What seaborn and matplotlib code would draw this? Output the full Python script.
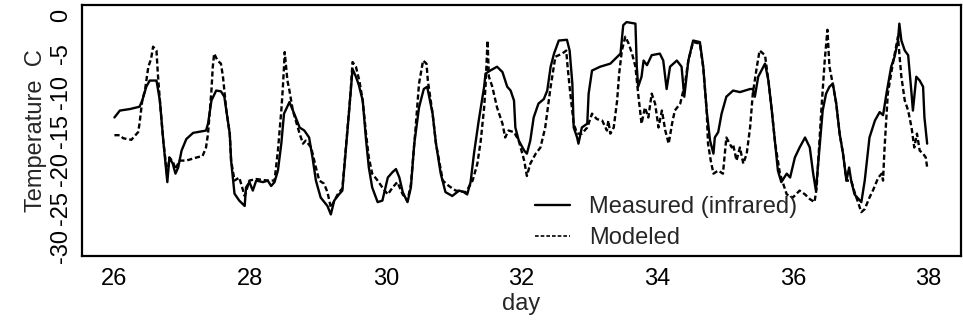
import matplotlib
matplotlib.use("Agg")
import matplotlib.pyplot as plt
import seaborn as sns
import pandas as pd
from matplotlib.lines import Line2D

# ---- data ----
measured_day = [26.00, 26.08, 26.23, 26.37, 26.41, 26.47, 26.52, 26.62, 26.67, 26.72, 26.78, 26.81,
                26.86, 26.90, 26.94, 26.99, 27.06, 27.16, 27.35, 27.38, 27.43, 27.50, 27.57, 27.62,
                27.70, 27.72, 27.77, 27.84, 27.92, 27.94, 27.99, 28.04, 28.09, 28.19, 28.26, 28.31,
                28.36, 28.41, 28.46, 28.50, 28.58, 28.65, 28.73, 28.80, 28.87, 28.92, 28.97, 29.04,
                29.14, 29.19, 29.24, 29.31, 29.36, 29.41, 29.46, 29.51, 29.56, 29.60, 29.66, 29.71,
                29.75, 29.80, 29.88, 29.95, 30.03, 30.10, 30.15, 30.20, 30.25, 30.32, 30.37, 30.42,
                30.49, 30.56, 30.61, 30.69, 30.74, 30.81, 30.88, 30.98, 31.08, 31.15, 31.20, 31.25,
                31.30, 31.37, 31.45, 31.47, 31.54, 31.64, 31.72, 31.79, 31.84, 31.89, 31.91, 31.96,
                32.04, 32.08, 32.13, 32.18, 32.25, 32.33, 32.38, 32.43, 32.48, 32.55, 32.67, 32.71,
                32.75, 32.77, 32.82, 32.84, 32.89, 32.97, 32.99, 33.04, 33.16, 33.31, 33.38, 33.46,
                33.50, 33.55, 33.68, 33.70, 33.72, 33.77, 33.80, 33.85, 33.92, 34.04, 34.09, 34.14,
                34.19, 34.29, 34.36, 34.40, 34.46, 34.53, 34.63, 34.68, 34.73, 34.78, 34.83, 34.85,
                34.90, 34.95, 35.02, 35.12, 35.22, 35.37, 35.41, 35.44, 35.49, 35.59, 35.64, 35.69,
                35.74, 35.78, 35.83, 35.91, 35.96, 36.03, 36.10, 36.18, 36.25, 36.30, 36.34, 36.39,
                36.44, 36.49, 36.54, 36.59, 36.64, 36.69, 36.74, 36.79, 36.83, 36.86, 36.91, 36.99,
                37.01, 37.06, 37.13, 37.21, 37.28, 37.33, 37.38, 37.45, 37.50, 37.55, 37.57, 37.60,
                37.65, 37.70, 37.75, 37.77, 37.82, 37.87, 37.92, 37.94, 37.98]
measured_temp = [-13.3, -12.4, -12.2, -11.9, -11.1, -9.3, -8.5, -8.5, -11.1, -16.3, -21.7, -18.5,
                 -19.3, -20.6, -19.8, -17.6, -16.1, -15.3, -15.0, -14.1, -11.1, -9.8, -9.9, -10.6,
                 -15.4, -18.9, -23.2, -24.1, -24.8, -22.4, -21.7, -22.8, -21.5, -21.7, -21.5, -22.2,
                 -21.7, -20.2, -16.7, -12.8, -11.3, -12.8, -14.6, -15.0, -15.9, -18.5, -21.5, -23.7,
                 -24.8, -25.9, -24.1, -23.3, -22.8, -17.6, -12.4, -7.0, -8.0, -9.0, -11.1, -16.3,
                 -19.8, -22.4, -24.3, -24.1, -21.1, -20.4, -20.0, -21.1, -23.0, -24.3, -22.4, -16.7,
                 -12.0, -9.6, -9.3, -12.8, -16.7, -20.6, -23.0, -23.5, -22.8, -23.0, -23.3, -21.7,
                 -18.0, -13.7, -9.3, -7.6, -7.2, -6.7, -7.4, -9.3, -9.8, -11.1, -14.6, -16.3,
                 -17.6, -18.0, -16.3, -13.3, -11.5, -10.9, -9.8, -6.7, -5.0, -3.3, -3.2, -4.6,
                 -8.9, -14.6, -15.9, -16.7, -14.6, -14.1, -10.2, -7.2, -6.7, -6.3, -5.7, -5.0,
                 -1.3, -0.9, -1.1, -6.7, -9.3, -8.0, -5.9, -6.5, -5.2, -5.0, -5.9, -9.6,
                 -6.7, -5.9, -6.7, -10.6, -5.9, -3.3, -3.5, -6.7, -12.4, -16.3, -18.0, -15.9,
                 -15.2, -12.8, -10.6, -9.8, -10.0, -9.6, -9.6, -10.6, -8.0, -6.3, -8.5, -12.4,
                 -16.7, -20.2, -21.7, -20.6, -21.1, -18.5, -17.2, -15.9, -17.2, -20.6, -22.8, -17.6,
                 -12.4, -10.2, -9.3, -8.9, -11.5, -15.4, -18.0, -21.5, -19.8, -21.5, -23.3, -24.1,
                 -24.3, -21.5, -15.9, -13.7, -12.6, -13.0, -10.2, -6.7, -5.4, -3.3, -1.1, -3.3,
                 -4.6, -5.2, -10.2, -12.4, -8.0, -8.5, -9.3, -13.3, -16.7]

modeled_day = [26.00, 26.08, 26.13, 26.25, 26.35, 26.37, 26.41, 26.45, 26.50, 26.54, 26.57, 26.62,
               26.64, 26.67, 26.72, 26.78, 26.81, 26.86, 26.90, 26.96, 27.06, 27.21, 27.30, 27.35,
               27.38, 27.43, 27.45, 27.47, 27.52, 27.57, 27.60, 27.65, 27.70, 27.72, 27.77, 27.84,
               27.92, 27.99, 28.09, 28.26, 28.36, 28.41, 28.46, 28.48, 28.50, 28.51, 28.55, 28.58,
               28.63, 28.73, 28.78, 28.82, 28.90, 28.97, 29.02, 29.09, 29.14, 29.19, 29.29, 29.36,
               29.43, 29.48, 29.51, 29.56, 29.61, 29.66, 29.71, 29.75, 29.80, 29.88, 29.95, 30.03,
               30.10, 30.17, 30.25, 30.32, 30.37, 30.44, 30.49, 30.55, 30.60, 30.62, 30.69, 30.74,
               30.84, 30.93, 31.03, 31.18, 31.28, 31.35, 31.40, 31.45, 31.47, 31.50, 31.52, 31.57,
               31.64, 31.72, 31.76, 31.81, 31.89, 31.96, 32.04, 32.08, 32.13, 32.21, 32.28, 32.35,
               32.43, 32.50, 32.60, 32.66, 32.68, 32.72, 32.77, 32.82, 32.89, 32.97, 33.04, 33.11,
               33.19, 33.26, 33.28, 33.31, 33.36, 33.41, 33.44, 33.48, 33.53, 33.58, 33.63, 33.68,
               33.72, 33.77, 33.82, 33.87, 33.92, 33.97, 34.02, 34.07, 34.12, 34.17, 34.22, 34.26,
               34.34, 34.41, 34.46, 34.53, 34.63, 34.68, 34.73, 34.75, 34.79, 34.83, 34.90, 34.97,
               35.02, 35.10, 35.12, 35.17, 35.22, 35.27, 35.32, 35.37, 35.41, 35.47, 35.51, 35.59,
               35.64, 35.69, 35.74, 35.81, 35.91, 36.00, 36.10, 36.18, 36.25, 36.32, 36.35, 36.42,
               36.47, 36.51, 36.54, 36.59, 36.64, 36.69, 36.74, 36.79, 36.86, 36.91, 37.01, 37.06,
               37.13, 37.18, 37.26, 37.31, 37.33, 37.35, 37.38, 37.40, 37.47, 37.55, 37.57, 37.60,
               37.65, 37.70, 37.75, 37.79, 37.83, 37.87, 37.92, 37.96, 37.98]
modeled_temp = [-15.6, -15.6, -16.0, -16.2, -15.2, -14.1, -11.1, -9.8, -6.7, -5.7, -4.1, -4.6,
                -7.6, -11.1, -16.3, -21.0, -18.5, -19.0, -20.0, -18.9, -18.9, -18.5, -18.3, -17.2,
                -15.4, -9.8, -6.7, -5.0, -5.9, -6.3, -8.0, -12.4, -15.4, -18.9, -21.5, -21.1,
                -23.5, -21.5, -21.3, -21.5, -21.5, -17.6, -12.4, -9.8, -6.7, -4.8, -8.5, -9.8,
                -12.4, -15.4, -16.7, -16.3, -17.2, -19.8, -21.5, -21.9, -23.0, -25.0, -23.3, -22.5,
                -15.4, -10.2, -6.1, -6.7, -8.5, -11.1, -15.5, -18.5, -20.6, -21.5, -22.4, -23.3,
                -22.4, -21.7, -23.3, -24.1, -22.0, -14.6, -8.9, -5.9, -6.3, -8.5, -12.8, -16.7,
                -21.5, -22.2, -22.8, -23.0, -21.5, -19.3, -16.3, -12.0, -9.3, -3.3, -8.0, -9.3,
                -12.0, -14.1, -15.9, -15.0, -15.2, -16.3, -18.9, -20.9, -19.3, -18.0, -17.2, -14.6,
                -9.3, -5.4, -5.0, -4.6, -6.7, -10.2, -14.1, -15.4, -15.4, -14.6, -12.8, -13.5,
                -13.7, -15.0, -13.7, -15.4, -14.6, -11.1, -7.6, -4.6, -2.8, -3.7, -5.0, -6.7,
                -10.2, -14.1, -12.0, -13.3, -10.2, -11.5, -14.6, -12.4, -15.0, -16.7, -14.1, -12.4,
                -11.5, -8.9, -5.9, -3.5, -3.7, -6.9, -12.4, -16.7, -18.9, -20.6, -20.2, -20.6,
                -15.9, -17.2, -16.8, -18.9, -17.2, -19.3, -18.0, -14.6, -10.2, -6.7, -4.6, -5.2,
                -8.5, -12.4, -16.7, -20.6, -23.3, -23.7, -22.8, -23.3, -23.9, -24.3, -22.5, -12.4,
                -5.9, -1.9, -6.7, -9.0, -11.5, -15.4, -18.0, -21.5, -21.5, -23.0, -25.6, -25.2,
                -23.7, -22.8, -21.1, -20.6, -21.5, -17.6, -13.3, -10.2, -6.5, -2.8, -5.0, -8.0,
                -11.1, -12.4, -14.6, -17.2, -15.4, -17.6, -18.0, -18.5, -19.8]

series_labels = ["Measured (infrared)", "Modeled"]
x_ticks = [26, 28, 30, 32, 34, 36, 38]
y_ticks = [0, -5, -10, -15, -20, -25, -30]

# ---- build long-form table ----
df = pd.concat([
    pd.DataFrame({"day": measured_day, "temp": measured_temp, "series": series_labels[0]}),
    pd.DataFrame({"day": modeled_day, "temp": modeled_temp, "series": series_labels[1]}),
], ignore_index=True)

sns.set_style("white")
plt.rcParams["font.family"] = ["Liberation Sans", "DejaVu Sans"]
plt.rcParams["axes.unicode_minus"] = False

fig = plt.figure(figsize=(9.63, 3.22), dpi=100)
ax = fig.add_axes([0.085, 0.205, 0.913, 0.779])

sns.lineplot(data=df, x="day", y="temp", hue="series", style="series",
             palette={series_labels[0]: "black", series_labels[1]: "black"},
             dashes={series_labels[0]: "", series_labels[1]: (2.2, 1.2)},
             estimator=None, sort=False, linewidth=1.7, legend=False, ax=ax)

ax.set_xlim(25.52, 38.48)
ax.set_ylim(-31.3, 1.3)
ax.set_xticks(x_ticks)
ax.set_xticklabels([str(t) for t in x_ticks])
ax.set_yticks(y_ticks)
ax.set_yticklabels([str(t) for t in y_ticks], rotation=90, va="center")
ax.tick_params(axis="both", direction="out", length=4, width=1.2, labelsize=17, colors="black")
ax.tick_params(axis="x", pad=5)
ax.tick_params(axis="y", pad=3)
for s in ax.spines.values():
    s.set_linewidth(1.6)
    s.set_color("black")
ax.set_xlabel("day", fontsize=17, labelpad=2)
ax.set_ylabel("Temperature  C", fontsize=17, labelpad=2)

handles = [Line2D([], [], color="black", lw=1.7, linestyle="-"),
           Line2D([], [], color="black", lw=1.2, linestyle=(0, (2.2, 1.2)))]
ax.legend(handles, series_labels, loc="upper left", bbox_to_anchor=(0.515, 0.24),
          frameon=False, fontsize=17, handlelength=1.5, handletextpad=0.8,
          labelspacing=0.4, borderpad=0, borderaxespad=0)

fig.savefig("out.png", dpi=100)
